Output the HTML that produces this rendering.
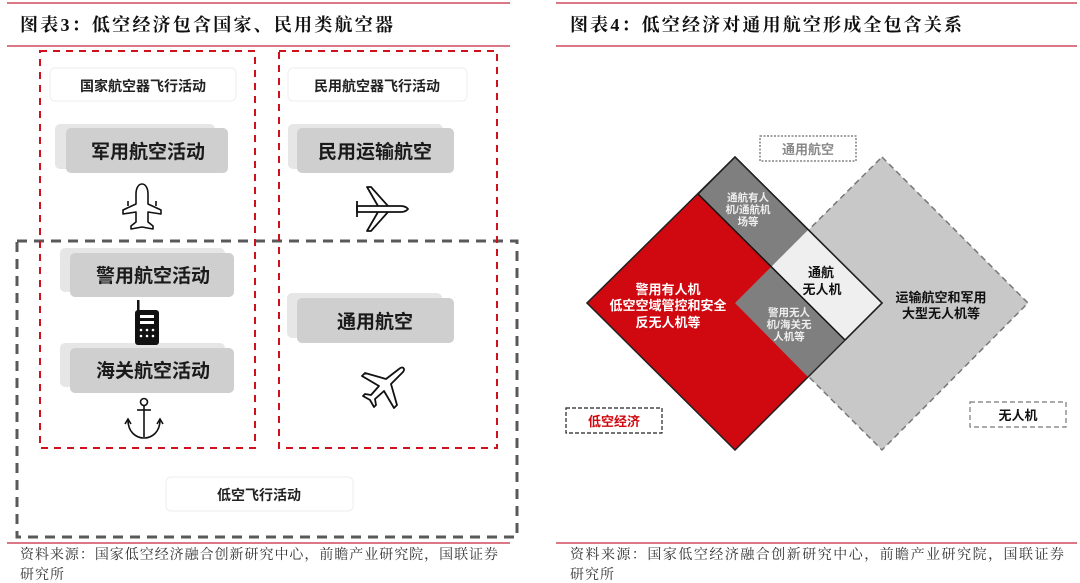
<!DOCTYPE html>
<html><head><meta charset="utf-8"><style>
html,body{margin:0;padding:0;background:#fff;}
svg{display:block;}
.t{font-family:"Liberation Serif","Noto Serif CJK SC",serif;font-weight:bold;font-size:18px;fill:#111;}
.f{font-family:"Liberation Serif","Noto Serif CJK SC",serif;font-size:14px;fill:#333;}
.b{font-family:"Liberation Sans","Noto Sans CJK SC",sans-serif;font-weight:bold;}
</style></head><body>
<svg width="1080" height="583" viewBox="0 0 1080 583" xmlns="http://www.w3.org/2000/svg">
<g stroke="#c8283c" stroke-width="1.2">
<line x1="7" y1="3" x2="510" y2="3"/><line x1="7" y1="46" x2="510" y2="46"/>
<line x1="556" y1="3" x2="1077" y2="3"/><line x1="556" y1="46" x2="1077" y2="46"/>
<line x1="7" y1="543" x2="510" y2="543"/><line x1="556" y1="543" x2="1077" y2="543"/>
</g>
<text class="t" x="20" y="31" textLength="373" lengthAdjust="spacing">图表3：低空经济包含国家、民用类航空器</text>
<text class="t" x="570" y="31" textLength="392" lengthAdjust="spacing">图表4：低空经济对通用航空形成全包含关系</text>
<text class="f" x="20" y="559" textLength="478" lengthAdjust="spacing">资料来源：国家低空经济融合创新研究中心，前瞻产业研究院，国联证券</text>
<text class="f" x="20" y="579" textLength="44" lengthAdjust="spacing">研究所</text>
<text class="f" x="570" y="559" textLength="494" lengthAdjust="spacing">资料来源：国家低空经济融合创新研究中心，前瞻产业研究院，国联证券</text>
<text class="f" x="570" y="579" textLength="44" lengthAdjust="spacing">研究所</text>

<rect x="17" y="241" width="500" height="296" fill="none" stroke="#595959" stroke-width="3" stroke-dasharray="10,7"/>
<rect x="40" y="51" width="215" height="397" fill="none" stroke="#d0101a" stroke-width="2" stroke-dasharray="7,6"/>
<rect x="279" y="51" width="218" height="397" fill="none" stroke="#d0101a" stroke-width="2" stroke-dasharray="7,6"/>

<rect x="50" y="68" width="186" height="33" rx="5" fill="#fff" stroke="#eee"/>
<text class="b" x="143" y="91" font-size="14" text-anchor="middle" fill="#222">国家航空器飞行活动</text>
<rect x="288" y="68" width="179" height="33" rx="5" fill="#fff" stroke="#eee"/>
<text class="b" x="377" y="91" font-size="14" text-anchor="middle" fill="#222">民用航空器飞行活动</text>

<g fill="#e6e6e6">
<rect x="55" y="124" width="160" height="45" rx="5"/>
<rect x="288" y="124" width="155" height="45" rx="5"/>
<rect x="60" y="248" width="165" height="44" rx="5"/>
<rect x="60" y="343" width="165" height="44" rx="5"/>
<rect x="287" y="293" width="155" height="45" rx="5"/>
</g>
<g fill="#d0cfcf">
<rect x="66" y="128" width="162" height="45" rx="5"/>
<rect x="297" y="128" width="157" height="45" rx="5"/>
<rect x="70" y="253" width="164" height="44" rx="5"/>
<rect x="70" y="348" width="164" height="45" rx="5"/>
<rect x="297" y="298" width="157" height="45" rx="5"/>
</g>
<g class="b" font-size="19" text-anchor="middle" fill="#1a1a1a">
<text x="148" y="158">军用航空活动</text>
<text x="375" y="158">民用运输航空</text>
<text x="153" y="282">警用航空活动</text>
<text x="153" y="377">海关航空活动</text>
<text x="375" y="328">通用航空</text>
</g>

<g fill="none" stroke="#111" stroke-width="1.6" stroke-linejoin="round">
<path d="M142,184 c-4,0 -6,5 -6,10 v10 l-13,6 v4 l13,-2 v10 l-5,4 v3 l11,-2 l11,2 v-3 l-5,-4 v-10 l13,2 v-4 l-13,-6 v-10 c0,-5 -2,-10 -6,-10z"/>
<line x1="128" y1="206" x2="128" y2="201"/><line x1="156" y1="206" x2="156" y2="201"/>
</g>
<g fill="none" stroke="#111" stroke-width="1.8" stroke-linejoin="round">
<path d="M357,206 h44 c5,0 7,3 7,3 c0,0 -2,3 -7,3 h-44z"/>
<path d="M378,206 l-11,-19 h4 l17,19"/><path d="M378,212 l-11,19 h4 l17,-19"/>
<line x1="357" y1="201" x2="357" y2="217"/>
</g>
<g fill="#111">
<rect x="137" y="300" width="2.5" height="12"/>
<rect x="135" y="310" width="24" height="35" rx="3"/>
</g>
<g fill="#fff"><rect x="140" y="315" width="14" height="3"/><rect x="140" y="321" width="14" height="3"/>
<circle cx="141" cy="330" r="1.3"/><circle cx="147" cy="330" r="1.3"/><circle cx="153" cy="330" r="1.3"/>
<circle cx="141" cy="336" r="1.3"/><circle cx="147" cy="336" r="1.3"/><circle cx="153" cy="336" r="1.3"/></g>
<g fill="none" stroke="#111" stroke-width="1.6">
<circle cx="144" cy="402" r="3.5"/><line x1="144" y1="406" x2="144" y2="437"/><line x1="137" y1="410" x2="151" y2="410"/>
<path d="M128,420 c0,12 8,18 16,18 c8,0 16,-6 16,-18"/><path d="M125,424 l3,-5 l3,5"/><path d="M157,424 l3,-5 l3,5"/>
</g>
<path d="M399,369 c3,-3 7,-1 4,3 l-12,12 l6,21 l-3,3 l-10,-17 l-9,8 l1,6 l-2,2 l-4,-7 l-7,-4 l2,-2 l6,1 l8,-9 l-17,-10 l3,-3 l21,6z" fill="none" stroke="#111" stroke-width="1.8" stroke-linejoin="round"/>

<rect x="166" y="477" width="187" height="34" rx="5" fill="#fff" stroke="#eee"/>
<text class="b" x="259" y="500" font-size="14" text-anchor="middle" fill="#222">低空飞行活动</text>

<polygon points="882,157 1028,303 882,450 735,303" fill="#c8c8c8" stroke="#777" stroke-width="1.5" stroke-dasharray="6,4"/>
<polygon points="735,157 882,303 735,450 587,303" fill="#d0080f" stroke="#222" stroke-width="1.5"/>
<polygon points="808,230 882,303 808,377 735,303" fill="#7f7f7f"/>
<polygon points="735,157 882,303 845,340 698,194" fill="#7f7f7f"/>
<polygon points="808,230 882,303 845,340 771,267" fill="#efefef"/>
<polygon points="735,157 882,303 845,340 698,194" fill="none" stroke="#111" stroke-width="1.5"/>
<polygon points="735,157 882,303 735,450 587,303" fill="none" stroke="#222" stroke-width="1.2"/>

<g class="b" text-anchor="middle">
<g font-size="10.5" fill="#eee"><text x="748" y="201">通航有人</text><text x="748" y="213">机/通航机</text><text x="748" y="225">场等</text>
<text x="789" y="316">警用无人</text><text x="789" y="328">机/海关无</text><text x="789" y="340">人机等</text></g>
<g font-size="13" fill="#111"><text x="821" y="277">通航</text><text x="822" y="294">无人机</text></g>
<g font-size="13" fill="#fff"><text x="668" y="294">警用有人机</text><text x="668" y="310">低空空域管控和安全</text><text x="668" y="327">反无人机等</text></g>
<g font-size="13" fill="#111"><text x="941" y="302">运输航空和军用</text><text x="941" y="318">大型无人机等</text></g>
</g>

<rect x="760" y="136" width="96" height="25" fill="#fff" stroke="#444" stroke-width="1" stroke-dasharray="2,1.5"/>
<text class="b" x="808" y="154" font-size="13" text-anchor="middle" fill="#888">通用航空</text>
<rect x="566" y="408" width="96" height="25" fill="#fff" stroke="#222" stroke-width="1.2" stroke-dasharray="4,2"/>
<text class="b" x="614" y="426" font-size="13" text-anchor="middle" fill="#d0080f">低空经济</text>
<rect x="970" y="402" width="96" height="25" fill="#fff" stroke="#777" stroke-width="1.2" stroke-dasharray="5,3"/>
<text class="b" x="1018" y="420" font-size="13" text-anchor="middle" fill="#111">无人机</text>
</svg>
</body></html>
